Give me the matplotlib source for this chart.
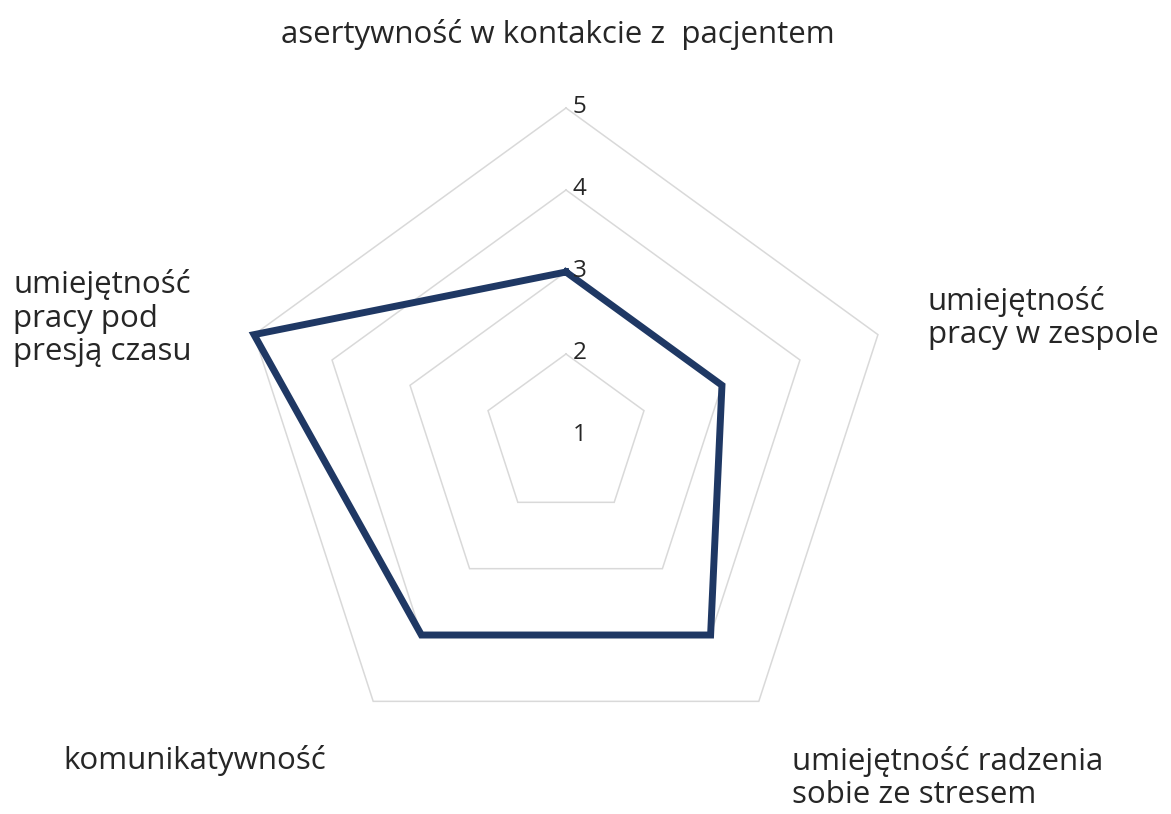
import numpy as np
import matplotlib
matplotlib.use("Agg")
import matplotlib.pyplot as plt

plt.rcParams['font.family'] = ['Open Sans', 'DejaVu Sans']

# skills assessed, clockwise from the top
categories = [
    "asertywność w kontakcie z  pacjentem",
    "umiejętność\npracy w zespole",
    "umiejętność radzenia\nsobie ze stresem",
    "komunikatywność",
    "umiejętność\npracy pod\npresją czasu",
]
scores = [3, 3, 4, 4, 5]
levels = [1, 2, 3, 4, 5]

W, H = 1171, 814
fig = plt.figure(figsize=(W / 100, H / 100), dpi=100)

# polar axes: centre at (566, 436) px, radius 328 px
cx, cy, rad = 566, 436, 328
ax = fig.add_axes([(cx - rad) / W, (H - cy - rad) / H, 2 * rad / W, 2 * rad / H],
                  projection='polar')
ax.set_theta_offset(np.pi / 2)
ax.set_theta_direction(-1)
ax.set_ylim(levels[0], levels[-1])
ax.grid(False)
ax.spines['polar'].set_visible(False)
ax.set_xticks([])
ax.set_yticks([])
ax.patch.set_alpha(0)

n = len(categories)
theta = np.linspace(0, 2 * np.pi, n, endpoint=False)
theta_c = np.append(theta, theta[0])

# pentagon gridlines
for lv in levels:
    ax.plot(theta_c, [lv] * (n + 1), color='#d9d9d9', lw=1.1,
            solid_joinstyle='miter', zorder=1, clip_on=False)

# data series
vals = np.append(scores, scores[0])
ax.plot(theta_c, vals, color='#1f3864', lw=5.0, solid_joinstyle='miter',
        zorder=3, clip_on=False)

# value axis labels along the top spoke
for lv in levels:
    ax.annotate(str(lv), xy=(0, lv), xytext=(5, 1), textcoords='offset points',
                ha='left', va='center', fontsize=17.5, color='#262626',
                annotation_clip=False, zorder=4)

# category labels
text_kw = dict(fontsize=22.5, color='#262626', linespacing=1.15)
label_pos = [
    (558, 35, 'center'),
    (928, 318, 'left'),
    (792, 778, 'left'),
    (63, 760, 'left'),
    (13, 318, 'left'),
]
for lab, (x, y, ha) in zip(categories, label_pos):
    fig.text(x / W, 1 - y / H, lab, ha=ha, va='center', **text_kw)

fig.savefig("out.png", dpi=100, facecolor='white')
